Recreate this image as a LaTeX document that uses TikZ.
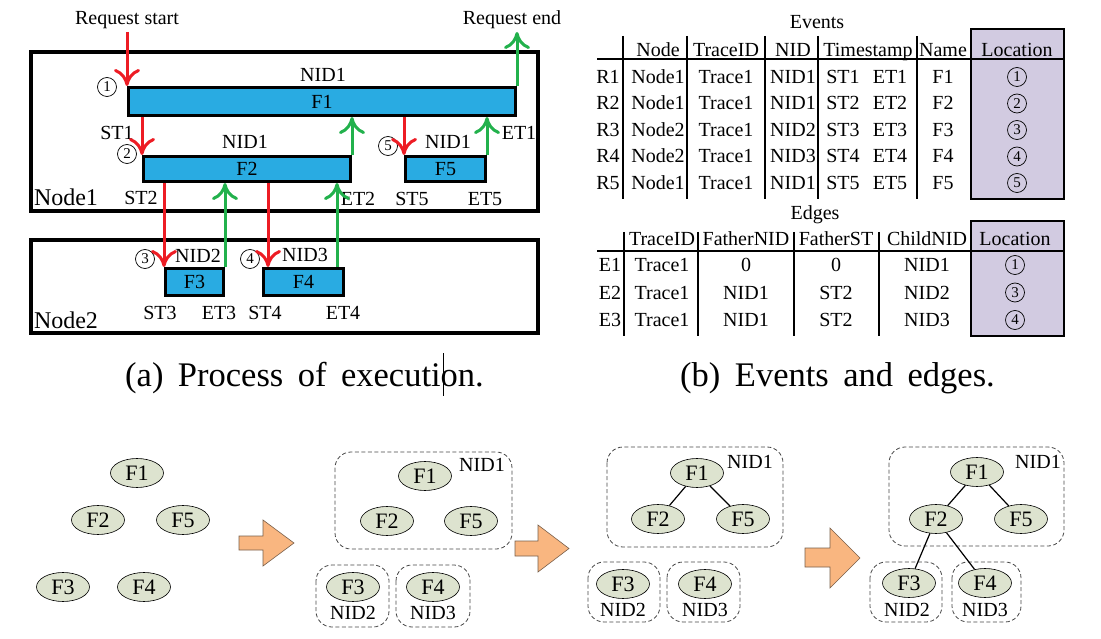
\documentclass[tikz,border=0pt]{standalone}
\usepackage{fontspec}
\setmainfont{Liberation Serif}
\usetikzlibrary{arrows.meta,shapes.geometric,positioning,calc}

\definecolor{barblue}{RGB}{41,171,226}
\definecolor{callred}{RGB}{237,28,36}
\definecolor{retgreen}{RGB}{34,177,76}
\definecolor{locfill}{RGB}{210,203,225}
\definecolor{ellfill}{RGB}{221,227,207}
\definecolor{blkfill}{RGB}{249,182,128}
\definecolor{blkline}{RGB}{120,95,75}
\definecolor{grpgray}{RGB}{70,70,70}
\newcommand{\wide}{\spaceskip=14.5pt\relax}

\begin{document}
\begin{tikzpicture}[x=1pt,y=-1pt,
  lbl/.style={font=\fontsize{20}{20}\selectfont,text height=13pt,text depth=0pt},
  nlbl/.style={font=\fontsize{24}{24}\selectfont,text height=16pt,text depth=0pt},
  subcap/.style={font=\fontsize{34.5}{40}\selectfont},
  bar/.style={draw,line width=3pt,fill=barblue,font=\fontsize{20}{20}\selectfont},
  num/.style={circle,draw,line width=0.7pt,minimum size=19pt,font=\fontsize{15}{15}\selectfont},
  nodebox/.style={line width=4pt},
  callin/.style={draw=callred,line width=3pt,-{Computer Modern Rightarrow[length=17pt,width=26pt]}},
  callout/.style={draw=retgreen,line width=3pt,-{Computer Modern Rightarrow[length=17pt,width=26pt]}},
  vrule/.style={line width=2.2pt},
  hrule/.style={line width=2.5pt},
  locbox/.style={line width=2.5pt},
  fnode/.style={ellipse,draw,line width=0.6pt,fill=ellfill,minimum width=53pt,minimum height=29pt,font=\fontsize{22}{22}\selectfont},
  grp/.style={draw=grpgray,dash pattern=on 4pt off 2.5pt,rounded corners=16pt,line width=0.8pt},
  tree/.style={line width=1.2pt},
  blk/.style={draw=blkline,fill=blkfill,line width=0.6pt}]
\tikzstyle{every node}+=[inner sep=0pt]
\useasboundingbox (0,0) rectangle (1101,639);

% (a) process of execution
\draw[nodebox] (31,52) rectangle (538,211);
\draw[nodebox] (31,240) rectangle (538,333);
\node[nlbl] (node1) at (66,198) {Node1};
\node[nlbl] (node2) at (66,320) {Node2};

\node[bar,minimum width=387pt,minimum height=28pt] (f1) at (322,101.5) {F1};
\node[bar,minimum width=207pt,minimum height=25pt] (f2) at (247,169) {F2};
\node[bar,minimum width=80pt,minimum height=25pt] (f5) at (445.5,169) {F5};
\node[bar,minimum width=58pt,minimum height=27pt] (f3) at (194.5,282) {F3};
\node[bar,minimum width=80pt,minimum height=27pt] (f4) at (303.5,282) {F4};

\node[lbl] (reqs) at (127,18) {Request start};
\node[lbl] (reqe) at (512,18) {Request end};
\node[lbl] (nidf1) at (323,75) {NID1};
\node[lbl] (nidf2) at (245,142) {NID1};
\node[lbl] (nidf5) at (448,142) {NID1};
\node[lbl] (nidf3) at (198,256) {NID2};
\node[lbl] (nidf4) at (305,255) {NID3};
\node[lbl] (st1) at (117,133) {ST1};
\node[lbl] (et1) at (519,133) {ET1};
\node[lbl] (st2) at (141,198) {ST2};
\node[lbl] (et2) at (358,199) {ET2};
\node[lbl] (st5) at (412,199) {ST5};
\node[lbl] (et5) at (485,199) {ET5};
\node[lbl] (st3) at (160,313) {ST3};
\node[lbl] (et3) at (219,313) {ET3};
\node[lbl] (st4) at (265,313) {ST4};
\node[lbl] (et4) at (343,313) {ET4};
\node[num] (loc1) at (107,87) {1};
\node[num] (loc2) at (127,154) {2};
\node[num] (loc5) at (388,146) {5};
\node[num] (loc3) at (145,259) {3};
\node[num] (loc4) at (250,259) {4};

\coordinate (rstart) at ([yshift=54pt]f1.north west);
\coordinate (rend) at ([yshift=54pt]f1.north east);
\coordinate (f4in) at ([xshift=6pt]f4.north west);
\coordinate (f4out) at ([xshift=-8pt]f4.north east);
\draw[callin] (rstart) -- (f1.north west);
\draw[callout] (f1.north east) -- (rend);
\draw[callin] (f2.north west |- f1.south) -- (f2.north west);
\draw[callout] (f2.north east) -- (f2.north east |- f1.south);
\draw[callin] (f5.north west |- f1.south) -- (f5.north west);
\draw[callout] (f5.north east) -- (f5.north east |- f1.south);
\draw[callin] (f3.north west |- f2.south) -- (f3.north west);
\draw[callout] (f3.north east) -- (f3.north east |- f2.south);
\draw[callin] (f4in |- f2.south) -- (f4in);
\draw[callout] (f4out) -- (f4out |- f2.south);

\node[subcap,anchor=base west] (capa) at (125,386) {\wide (a) Process of execution.};
\draw[line width=1pt] (443,353) -- (443,396);

% (b) events and edges
\node[lbl] (evtitle) at (817,22) {Events};
\fill[locfill] (971,29) rectangle (1064,199);
\foreach \x in {623,687,765,818,917} \draw[vrule] (\x,36) -- (\x,199);
\draw[hrule] (597,59) -- (1064,59);
\draw[locbox] (971,29) rectangle (1064,199);
\node[lbl] (evh1) at (658,50) {Node};
\node[lbl] (evh2) at (726,50) {TraceID};
\node[lbl] (evh3) at (793,50) {NID};
\node[lbl] (evh4) at (868,50) {Timestamp};
\node[lbl] (evh5) at (943,50) {Name};
\node[lbl] (evh6) at (1017,50) {Location};
\foreach \r/\n/\i/\k [count=\j] in {R1/Node1/NID1/1,R2/Node1/NID1/2,R3/Node2/NID2/3,R4/Node2/NID3/4,R5/Node1/NID1/5} {
  \pgfmathsetmacro\yy{77+26.5*(\j-1)}
  \node[lbl] (ev\j) at (608,\yy) {\r};
  \node[lbl] (evn\j) at (658,\yy) {\n};
  \node[lbl] (evt\j) at (726,\yy) {Trace1};
  \node[lbl] (evi\j) at (793,\yy) {\i};
  \node[lbl] (evs\j) at (843,\yy) {ST\k};
  \node[lbl] (eve\j) at (890,\yy) {ET\k};
  \node[lbl] (evf\j) at (943,\yy) {F\k};
  \node[num] (evl\j) at (1017,\yy) {\k};
}

\node[lbl] (edtitle) at (815,213) {Edges};
\fill[locfill] (971,221) rectangle (1064,336);
\foreach \x in {624,698,794,879} \draw[vrule] (\x,232) -- (\x,336);
\draw[hrule] (597,251) -- (1064,251);
\draw[locbox] (971,221) rectangle (1064,336);
\node[lbl] (edh1) at (662,239) {TraceID};
\node[lbl] (edh2) at (746,239) {FatherNID};
\node[lbl] (edh3) at (836,239) {FatherST};
\node[lbl] (edh4) at (927,239) {ChildNID};
\node[lbl] (edh5) at (1015,239) {Location};
\foreach \fn/\fs/\cn/\k [count=\j] in {0/0/NID1/1,NID1/ST2/NID2/3,NID1/ST2/NID3/4} {
  \pgfmathsetmacro\yy{265+27.5*(\j-1)}
  \node[lbl] (ed\j) at (610,\yy) {E\j};
  \node[lbl] (edt\j) at (662,\yy) {Trace1};
  \node[lbl] (edf\j) at (746,\yy) {\fn};
  \node[lbl] (eds\j) at (836,\yy) {\fs};
  \node[lbl] (edc\j) at (927,\yy) {\cn};
  \node[num] (edl\j) at (1015,\yy) {\k};
}
\node[subcap,anchor=base west] (capb) at (680,386) {\wide (b) Events and edges.};

% (c) building the tree
\node[fnode] (pa1) at (137,473) {F1};
\node[fnode] (pa2) at (98,520) {F2};
\node[fnode] (pa5) at (183,520) {F5};
\node[fnode] (pa3) at (63,587) {F3};
\node[fnode] (pa4) at (144,587) {F4};
\draw[blk] (239,536) -- (263,536) -- (263,520) -- (294,543) -- (263,566) -- (263,550) -- (239,550) -- cycle;

\draw[grp] (335,452) rectangle (512,549);
\draw[grp] (316,565) rectangle (389,627);
\draw[grp] (396,565) rectangle (470,627);
\node[fnode] (pb1) at (425,476) {F1};
\node[fnode] (pb2) at (387,521) {F2};
\node[fnode] (pb5) at (471,521) {F5};
\node[fnode] (pb3) at (353,587) {F3};
\node[fnode] (pb4) at (433,587) {F4};
\node[lbl] (gb1) at (482,465) {NID1};
\node[lbl] (gb2) at (353,613) {NID2};
\node[lbl] (gb3) at (433,613) {NID3};
\draw[blk] (515,541) -- (538,541) -- (538,525) -- (569,548.5) -- (538,572) -- (538,556) -- (515,556) -- cycle;

\draw[grp] (607,447) rectangle (783,547);
\draw[grp] (588,562) rectangle (660,622);
\draw[grp] (667,562) rectangle (740,622);
\node[fnode] (pc1) at (697,473) {F1};
\node[fnode] (pc2) at (658,519) {F2};
\node[fnode] (pc5) at (743,519) {F5};
\node[fnode] (pc3) at (623,584) {F3};
\node[fnode] (pc4) at (705,584) {F4};
\node[lbl] (gc1) at (750,462) {NID1};
\node[lbl] (gc2) at (623,610) {NID2};
\node[lbl] (gc3) at (705,610) {NID3};
\draw[tree] (pc1) -- (pc2);
\draw[tree] (pc1) -- (pc5);
\draw[blk] (805,548) -- (830,548) -- (830,528) -- (860,558) -- (830,588) -- (830,567) -- (805,567) -- cycle;

\draw[grp] (889,447) rectangle (1064,546);
\draw[grp] (870,562) rectangle (942,622);
\draw[grp] (952,562) rectangle (1021,622);
\node[fnode] (pd1) at (977,472) {F1};
\node[fnode] (pd2) at (936,519) {F2};
\node[fnode] (pd5) at (1021,519) {F5};
\node[fnode] (pd3) at (909,583) {F3};
\node[fnode] (pd4) at (985,583) {F4};
\node[lbl] (gd1) at (1038,462) {NID1};
\node[lbl] (gd2) at (907,610) {NID2};
\node[lbl] (gd3) at (985,610) {NID3};
\draw[tree] (pd1) -- (pd2);
\draw[tree] (pd1) -- (pd5);
\draw[tree] (pd2) -- (pd3);
\draw[tree] (pd2) -- (pd4);
\end{tikzpicture}
\end{document}
